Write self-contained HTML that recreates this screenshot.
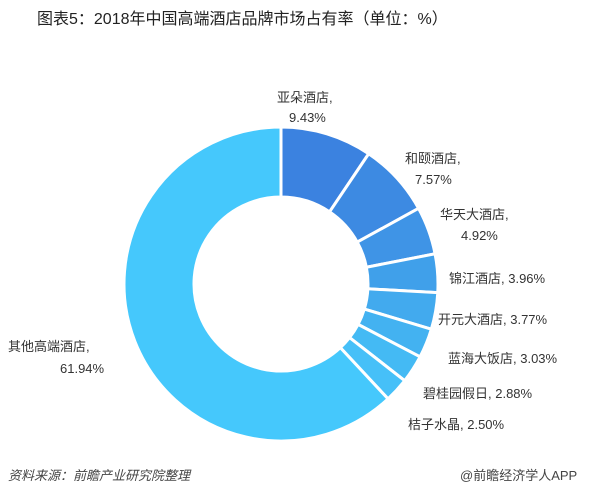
<!DOCTYPE html>
<html><head><meta charset="utf-8"><style>
body{margin:0;background:#fff;width:600px;height:502px;overflow:hidden;position:relative;font-family:"Liberation Sans","Noto Sans CJK SC",sans-serif;color:#333}
.t{position:absolute;font-size:13px;white-space:nowrap;line-height:16px}
</style></head><body>
<div class="t" style="left:37px;top:10px;font-size:16px;line-height:20px;color:#222">图表5：2018年中国高端酒店品牌市场占有率（单位：%）</div>
<svg id="s" width="600" height="502" style="position:absolute;left:0;top:0"></svg>
<div class="t" style="left:277px;top:90px">亚朵酒店,</div>
<div class="t" style="left:289px;top:110px">9.43%</div>
<div class="t" style="left:405px;top:151px">和颐酒店,</div>
<div class="t" style="left:415px;top:172px">7.57%</div>
<div class="t" style="left:440px;top:207px">华天大酒店,</div>
<div class="t" style="left:461px;top:228px">4.92%</div>
<div class="t" style="left:449px;top:271px">锦江酒店, 3.96%</div>
<div class="t" style="left:438px;top:312px">开元大酒店, 3.77%</div>
<div class="t" style="left:448px;top:351px">蓝海大饭店, 3.03%</div>
<div class="t" style="left:423px;top:386px">碧桂园假日, 2.88%</div>
<div class="t" style="left:408px;top:417px">桔子水晶, 2.50%</div>
<div class="t" style="left:8px;top:339px">其他高端酒店,</div>
<div class="t" style="left:60px;top:361px">61.94%</div>
<div class="t" style="left:8px;top:468px;font-style:italic;color:#444">资料来源：前瞻产业研究院整理</div>
<div class="t" style="left:460px;top:468px;color:#444">@前瞻经济学人APP</div>
<script>
var v=[9.43,7.57,4.92,3.96,3.77,3.03,2.88,2.50,61.94];
var cols=["#3b82e0","#3d8ae2","#3f94e6","#40a0ea","#42aaee","#43b2f1","#44baf4","#46c0f8","#45c8fc"];
var cx=281,cy=284,R=157,r=87,a=0,h="";
function p(rad,ang){return [cx+rad*Math.sin(ang),cy-rad*Math.cos(ang)];}
for(var i=0;i<v.length;i++){
 var a0=a/100*2*Math.PI;a+=v[i];var a1=a/100*2*Math.PI;
 var rr=i<8?R:R;
 var o0=p(rr,a0),o1=p(rr,a1),i1=p(r,a1),i0=p(r,a0),lg=(a1-a0)>Math.PI?1:0;
 h+='<path d="M'+o0+' A'+rr+','+rr+' 0 '+lg+' 1 '+o1+' L'+i1+' A'+r+','+r+' 0 '+lg+' 0 '+i0+' Z" fill="'+cols[i]+'" stroke="#fff" stroke-width="3"/>';
}
document.getElementById('s').innerHTML=h;
</script>
</body></html>
